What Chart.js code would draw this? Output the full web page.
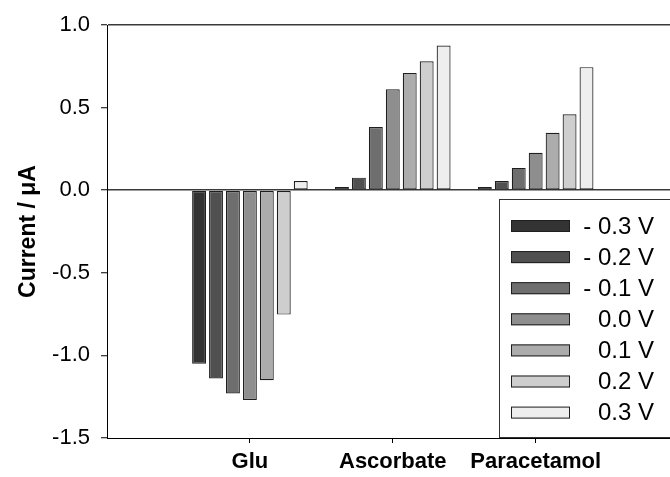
<!DOCTYPE html>
<html>
<head>
<meta charset="utf-8">
<script src="https://cdn.jsdelivr.net/npm/chart.js"></script>
<style>
  body { margin: 0; background: #fff; overflow: hidden; }
</style>
</head>
<body>
<canvas id="myChart" width="670" height="477"></canvas>
<script>
// categories on the x axis (placed at 1, 2, 3 on a linear scale)
const categories = ['Glu', 'Ascorbate', 'Paracetamol'];
const potentials = ['- 0.3 V', '- 0.2 V', '- 0.1 V', '0.0 V', '0.1 V', '0.2 V', '0.3 V'];

// current in uA, one array per potential: [Glu, Ascorbate, Paracetamol]
const m03 = [-1.05, 0.02, 0.02];
const m02 = [-1.14, 0.076, 0.056];
const m01 = [-1.23, 0.383, 0.135];
const p00 = [-1.27, 0.611, 0.227];
const p01 = [-1.15, 0.71, 0.348];
const p02 = [-0.753, 0.78, 0.46];
const p03 = [0.056, 0.876, 0.745];

const yTicks = [-1.5, -1.0, -0.5, 0.0, 0.5, 1.0];

const series = [m03, m02, m01, p00, p01, p02, p03];
const greys = ['#333333', '#505050', '#6e6e6e', '#8e8e8e', '#acacac', '#cecece', '#eeeeee'];

var datasets = series.map(function (vals, i) {
  return {
    label: potentials[i],
    data: vals.map(function (v, j) { return {x: j + 1, y: v}; }),
    backgroundColor: greys[i],
    borderColor: '#1e1e1e',
    borderWidth: 1.2,
    borderSkipped: false,
    categoryPercentage: 0.83,
    barPercentage: 0.82
  };
});

// legend box sitting in the lower right of the plot
const boxLegend = {
  id: 'boxLegend',
  afterDraw(chart) {
    const c = chart.ctx;
    const x0 = 499, y0 = 199;
    c.save();
    c.fillStyle = '#fff';
    c.fillRect(x0, y0, 200, 239);
    c.strokeStyle = '#333';
    c.lineWidth = 1;
    c.strokeRect(x0 + 0.5, y0 + 0.5, 200, 238);
    c.font = '24px Arial, "Liberation Sans", sans-serif';
    c.textBaseline = 'middle';
    chart.data.datasets.forEach(function (ds, i) {
      const cy = 226 + i * 31.1;
      c.fillStyle = ds.backgroundColor;
      c.fillRect(511, cy - 6, 59, 12);
      c.strokeStyle = '#1e1e1e';
      c.strokeRect(511.5, cy - 5.5, 58, 11);
      c.fillStyle = '#000';
      let tx = 598;
      if (ds.label.startsWith('- ')) tx -= c.measureText('- ').width;
      c.fillText(ds.label, tx, cy + 1);
    });
    c.restore();
  }
};

var ctx = document.getElementById('myChart');
new Chart(ctx, {
  type: 'bar',
  data: {datasets: datasets},
  plugins: [boxLegend],
  options: {
    responsive: false,
    animation: false,
    layout: {padding: {top: 25, right: 0, left: 0, bottom: 0}},
    plugins: {legend: {display: false}, tooltip: {enabled: false}},
    scales: {
      x: {
        type: 'linear',
        min: 0,
        max: 3.94,
        offset: false,
        afterBuildTicks: function (scale) {
          scale.ticks = categories.map(function (c, i) { return {value: i + 1}; });
        },
        afterFit: function (scale) { scale.height = 39; },
        ticks: {
          callback: function (v) { return categories[v - 1]; },
          color: '#000',
          font: {family: 'Arial, "Liberation Sans", sans-serif', size: 22, weight: 'bold'},
          padding: 6,
          maxRotation: 0
        },
        grid: {offset: false, drawOnChartArea: false, tickLength: 5, tickColor: '#000'},
        border: {color: '#000', width: 1}
      },
      y: {
        min: -1.5,
        max: 1.0,
        afterBuildTicks: function (scale) {
          scale.ticks = yTicks.map(function (v) { return {value: v}; });
        },
        afterFit: function (scale) { scale.width = 107; },
        ticks: {
          callback: function (v) { return v.toFixed(1); },
          color: '#000',
          font: {family: 'Arial, "Liberation Sans", sans-serif', size: 22},
          padding: 11
        },
        grid: {
          color: function (c) {
            if (c.tick && (c.tick.value === 0 || c.tick.value === 1)) return '#3a3a3a';
            return 'rgba(0,0,0,0)';
          },
          lineWidth: 1.5,
          tickLength: 6,
          tickColor: '#000',
          tickWidth: 1
        },
        border: {color: '#000', width: 1},
        title: {
          display: true,
          text: 'Current / μA',
          color: '#000',
          font: {family: 'Arial, "Liberation Sans", sans-serif', size: 23, weight: 'bold'},
          padding: {top: 15, bottom: 0}
        }
      }
    }
  }
});
</script>
</body>
</html>
